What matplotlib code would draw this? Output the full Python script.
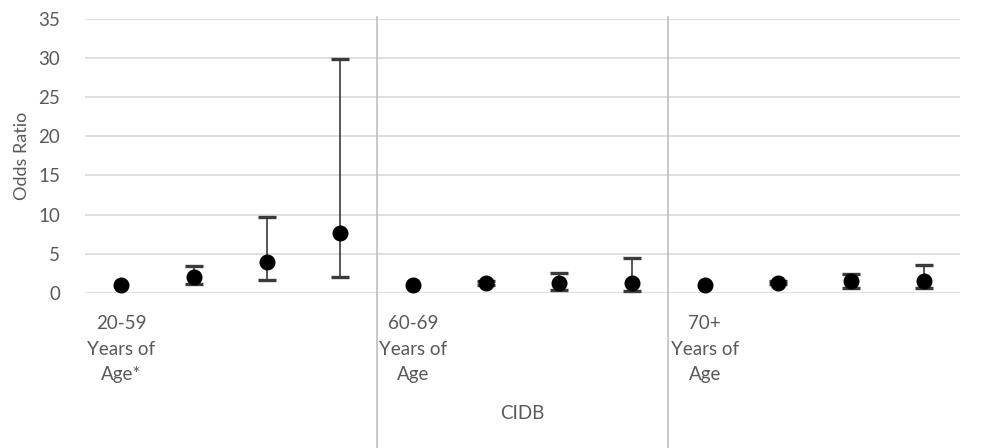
import numpy as np
import matplotlib.pyplot as plt

plt.rcParams['font.family'] = ['Lato', 'DejaVu Sans']

# odds ratios with 95% CI, three age groups x four levels
groups = ['20-59\nYears of\nAge*', '60-69\nYears of\nAge', '70+\nYears of\nAge']
axis_title = 'CIDB'
odds = [1.0, 2.1, 3.95, 7.6,
        1.0, 1.25, 1.25, 1.25,
        1.0, 1.3, 1.5, 1.5]
lower = [1.0, 1.15, 1.7, 2.0,
         1.0, 1.0, 0.4, 0.3,
         1.0, 1.1, 0.65, 0.6]
upper = [1.0, 3.4, 9.7, 29.9,
         1.0, 1.55, 2.6, 4.45,
         1.0, 1.55, 2.45, 3.6]

odds = np.array(odds)
lower = np.array(lower)
upper = np.array(upper)
x = np.arange(len(odds))
has_ci = upper > lower  # reference categories have no interval

fig = plt.figure(figsize=(9.82, 4.48), dpi=100)
ax = fig.add_axes([0.0866, 0.346, 0.891, 0.612])

ax.errorbar(x[has_ci], odds[has_ci],
            yerr=[(odds - lower)[has_ci], (upper - odds)[has_ci]], fmt='none',
            ecolor='#3a3a3a', elinewidth=1.2, capsize=6.5, capthick=2.4, zorder=2)
ax.plot(x, odds, 'o', color='black', markersize=10.5, zorder=3)

ax.set_xlim(-0.5, len(odds) - 0.5)
ax.set_ylim(0, 35)
ax.set_yticks(np.arange(0, 36, 5))
ax.yaxis.grid(True, color='#d9d9d9', linewidth=1.2)
ax.set_axisbelow(True)
ax.set_xticks([])
for s in ax.spines.values():
    s.set_visible(False)
ax.tick_params(axis='y', length=0, labelsize=13.5, labelcolor='#595959', pad=18)
ax.set_ylabel('Odds Ratio', fontsize=13, color='#595959', labelpad=6)

# multi-level category axis
n_per = len(odds) // len(groups)
trans = ax.get_xaxis_transform()
for g, lab in enumerate(groups):
    ax.text(g * n_per, -0.08, lab, transform=trans, ha='center', va='top',
            fontsize=13.5, color='#595959', linespacing=1.62)
    if g > 0:
        ax.plot([g * n_per - 0.5] * 2, [-0.75, 1.005], transform=trans,
                color='#bfbfbf', linewidth=1.2, clip_on=False)
ax.text((len(odds) - 1) / 2, -0.41, axis_title, transform=trans, ha='center',
        va='top', fontsize=13.5, color='#595959')

fig.savefig('out.png', dpi=100)
